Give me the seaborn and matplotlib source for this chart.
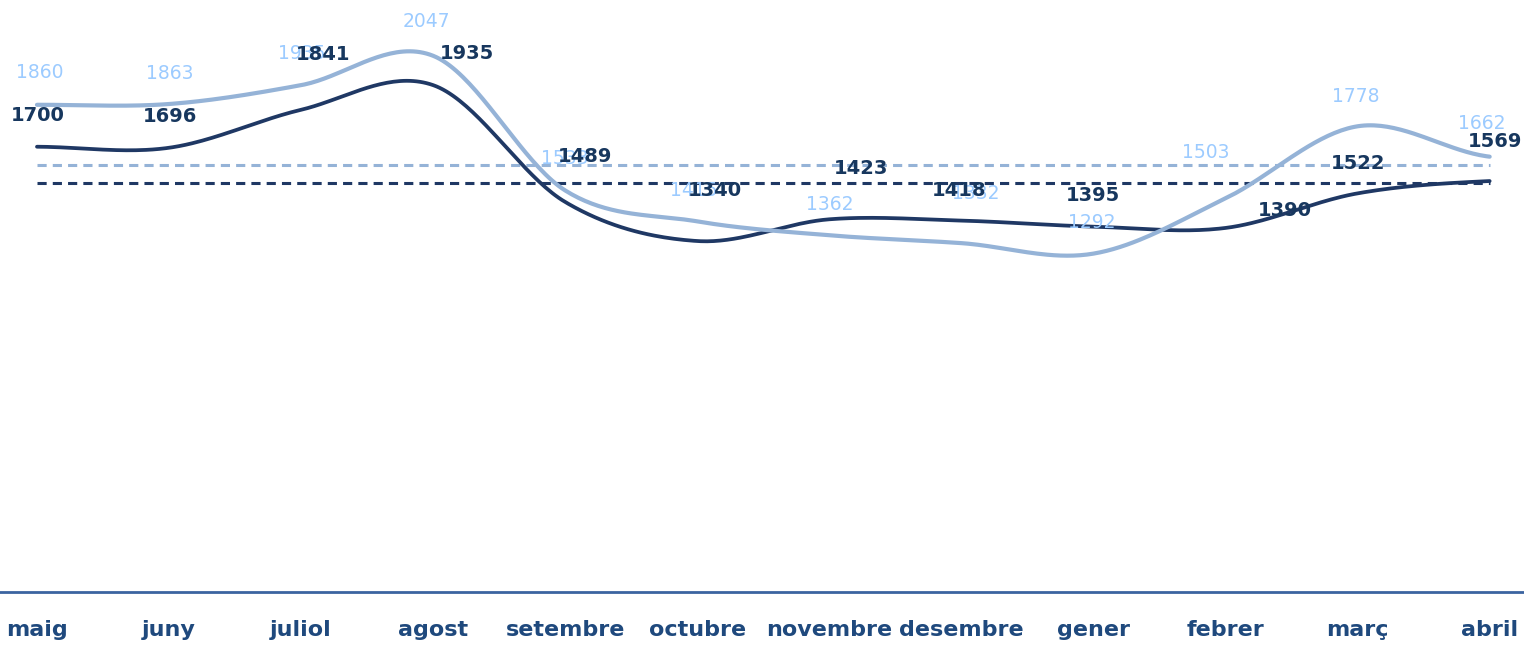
import numpy as np
import pandas as pd
import seaborn as sns
import matplotlib.pyplot as plt

sns.set_style("white")
plt.rcParams["font.family"] = ["DejaVu Sans"]

months = ["maig", "juny", "juliol", "agost", "setembre", "octubre",
          "novembre", "desembre", "gener", "febrer", "març", "abril"]
light_vals = [1860, 1863, 1935, 2047, 1533, 1415, 1362, 1332, 1292, 1503, 1778, 1662]
dark_vals = [1700, 1696, 1841, 1935, 1489, 1340, 1423, 1418, 1395, 1390, 1522, 1569]

# label offsets (pixels) from each point, as placed in the original
light_off = [(3, 32), (1, 31), (1, 32), (-7, 34), (0, 32), (-3, 31),
             (0, 31), (14, 50), (-2, 31), (-20, 46), (-2, 30), (-8, 33)]
dark_off = [(1, 31), (1, 31), (22, 55), (34, 32), (20, 45), (18, 51),
            (32, 51), (-2, 30), (-1, 31), (59, 17), (0, 30), (5, 40)]

LIGHT = "#95B3D7"
DARK = "#1F3864"
LIGHT_TXT = "#9CCBFF"
DARK_TXT = "#17375E"


def smooth(vals, n=40):
    # catmull-rom like excel's "smoothed line"
    y = np.asarray(vals, float)
    p = np.r_[y[0], y, y[-1]]
    xs, ys = [], []
    t = np.linspace(0, 1, n, endpoint=False)
    for i in range(len(y) - 1):
        p0, p1, p2, p3 = p[i], p[i + 1], p[i + 2], p[i + 3]
        seg = 0.5 * (2 * p1 + (-p0 + p2) * t + (2 * p0 - 5 * p1 + 4 * p2 - p3) * t ** 2
                     + (-p0 + 3 * p1 - 3 * p2 + p3) * t ** 3)
        xs.extend(i + t)
        ys.extend(seg)
    xs.append(len(y) - 1)
    ys.append(y[-1])
    return pd.DataFrame({"x": xs, "y": ys})


fig = plt.figure(figsize=(15.24, 6.45), dpi=100)
ax = fig.add_axes([0, 0.082, 1, 0.918])

n = len(months)
for vals, col in [(light_vals, LIGHT), (dark_vals, DARK)]:
    m = np.mean(vals)
    ax.plot([0, n - 1], [m, m], color=col, lw=2.2, dashes=(3, 2), zorder=2)

sns.lineplot(data=smooth(dark_vals), x="x", y="y", color=DARK, lw=2.7,
             sort=False, estimator=None, ax=ax, zorder=3)
sns.lineplot(data=smooth(light_vals), x="x", y="y", color=LIGHT, lw=3,
             sort=False, estimator=None, ax=ax, zorder=3)

for i, v in enumerate(light_vals):
    ax.annotate(str(v), (i, v), xytext=light_off[i], textcoords="offset pixels",
                ha="center", va="center", fontsize=13.5, color=LIGHT_TXT, zorder=5)
for i, v in enumerate(dark_vals):
    ax.annotate(str(v), (i, v), xytext=dark_off[i], textcoords="offset pixels",
                ha="center", va="center", fontsize=14, fontweight="bold",
                color=DARK_TXT, zorder=6)

ax.set_xlim(-0.28, 11.26)
ax.set_ylim(0, 2260)
ax.set_xticks(range(n))
ax.set_xticklabels(months, fontsize=16, fontweight="bold", color="#1F497D")
ax.tick_params(axis="x", length=0, pad=20)
ax.set_yticks([])
ax.set_xlabel("")
ax.set_ylabel("")
for s in ["top", "left", "right"]:
    ax.spines[s].set_visible(False)
ax.spines["bottom"].set_color("#3B64A0")
ax.spines["bottom"].set_linewidth(2)

fig.savefig("out.png", dpi=100)
